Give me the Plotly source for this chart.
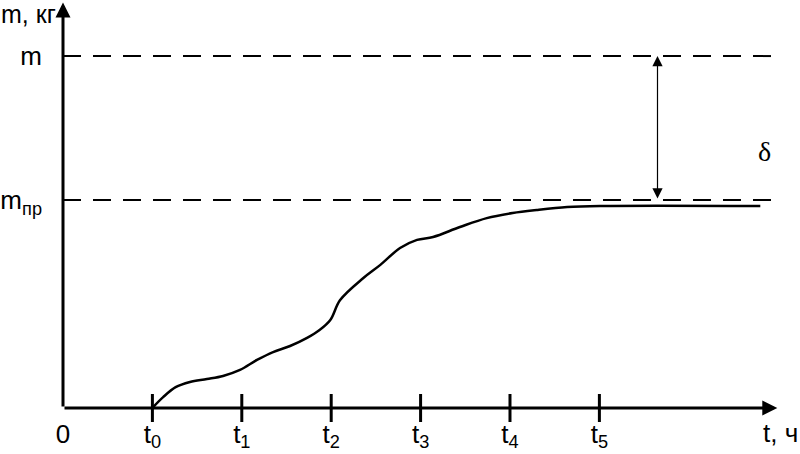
import plotly.graph_objects as go

# mass build-up curve m(t), t in tick units (t0 = 1), m relative to m_pr
t_vals = [1.0, 1.12, 1.26, 1.42, 1.61, 1.79, 1.98, 2.17, 2.35, 2.54, 2.73, 2.87,
          2.99, 3.10, 3.36, 3.55, 3.77, 3.96, 4.14, 4.44, 4.74, 5.03, 5.30,
          5.64, 6.01, 7.80]
m_vals = [0.0, 0.052, 0.100, 0.125, 0.139, 0.154, 0.183, 0.231, 0.269, 0.298,
          0.337, 0.375, 0.423, 0.519, 0.625, 0.688, 0.769, 0.808, 0.822, 0.870,
          0.913, 0.9375, 0.952, 0.966, 0.971, 0.971]

x_ticks = [0, 1, 2, 3, 4, 5, 6]
x_labels = ['0', 't<sub>0</sub>', 't<sub>1</sub>', 't<sub>2</sub>',
            't<sub>3</sub>', 't<sub>4</sub>', 't<sub>5</sub>']
mark_ticks = [1, 2, 3, 4, 5, 6]

m_pr = 1.0
m_full = 1.692
y_ticks = [m_full, m_pr]
y_labels = ['m', 'm<sub>пр</sub>']

FONT = 'Liberation Sans Narrow, Arial Narrow, Liberation Sans, Arial'

fig = go.Figure()

fig.add_trace(go.Scatter(
    x=t_vals, y=m_vals, mode='lines',
    line=dict(color='black', width=2.5, shape='spline', smoothing=1.0),
    hoverinfo='skip'
))

# tick marks crossing the t axis
fig.add_trace(go.Scatter(
    x=mark_ticks, y=[0] * len(mark_ticks), mode='markers',
    marker=dict(symbol='line-ns', size=20, line=dict(color='black', width=3)),
    cliponaxis=False, hoverinfo='skip'
))

# dashed levels m and m_pr
for lvl in y_ticks:
    fig.add_shape(type='line', xref='x', yref='y', x0=0, x1=8.02, y0=lvl, y1=lvl,
                  line=dict(color='black', width=2, dash='18px,12px'))

# axes with arrows
fig.add_annotation(x=7.99, y=0, ax=0, ay=0, xref='x', yref='y', axref='x', ayref='y',
                   text='', showarrow=True, arrowhead=2, arrowsize=1, arrowwidth=3,
                   arrowcolor='black')
fig.add_annotation(x=0, y=1.95, ax=0, ay=0, xref='x', yref='y', axref='x', ayref='y',
                   text='', showarrow=True, arrowhead=2, arrowsize=1, arrowwidth=3,
                   arrowcolor='black')

# delta double arrow
fig.add_annotation(x=6.65, y=m_full, ax=6.65, ay=m_pr, xref='x', yref='y',
                   axref='x', ayref='y', text='', showarrow=True,
                   arrowhead=2, startarrowhead=2, arrowside='end+start',
                   arrowsize=1.7, startarrowsize=1.7, arrowwidth=1.2, arrowcolor='black')

fig.add_annotation(x=7.85, y=1.232, xref='x', yref='y', text='δ', showarrow=False,
                   font=dict(family='Liberation Serif, Times New Roman, serif', size=28,
                             color='black'))

fig.add_annotation(x=0, y=1, xref='paper', yref='paper', text='m, кг',
                   showarrow=False, xanchor='right', yanchor='middle',
                   xshift=-5, yshift=-14,
                   font=dict(family=FONT, size=25, color='black'))
fig.add_annotation(x=1, y=0, xref='paper', yref='paper', text='t, ч',
                   showarrow=False, xanchor='right', yanchor='top',
                   xshift=0, yshift=-8,
                   font=dict(family=FONT, size=26, color='black'))

fig.update_xaxes(range=[0, 8.244], tickvals=x_ticks, ticktext=x_labels,
                 showgrid=False, zeroline=False, showline=False, ticks='',
                 ticklabelstandoff=8,
                 tickfont=dict(family=FONT, size=26, color='black'))
fig.update_yaxes(range=[0, 1.9615], tickvals=y_ticks, ticktext=y_labels,
                 showgrid=False, zeroline=False, showline=False, ticks='',
                 ticklabelstandoff=20,
                 tickfont=dict(family=FONT, size=26, color='black'))

fig.update_layout(
    width=800, height=454,
    margin=dict(l=63, r=0, t=0, b=46, autoexpand=False),
    plot_bgcolor='white', paper_bgcolor='white',
    showlegend=False
)

# drop the browser's default body margin so the figure fills the window
fig.write_html('out.html', config={'displayModeBar': False},
               post_script="document.body.style.margin='0';")
